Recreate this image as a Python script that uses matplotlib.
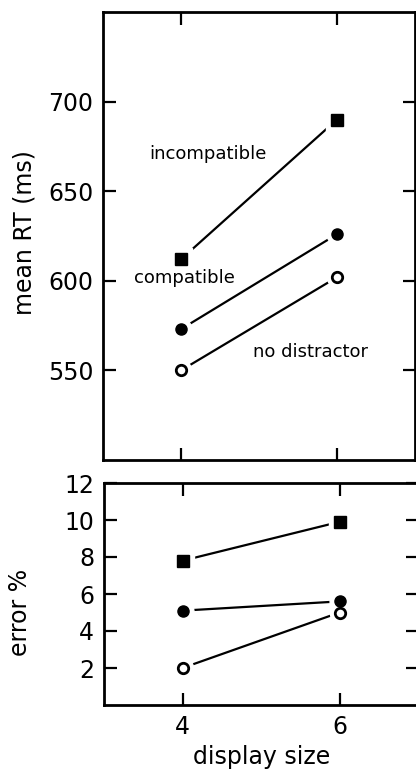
import matplotlib
matplotlib.use("Agg")
import matplotlib.pyplot as plt

plt.rcParams['font.family'] = ['DejaVu Sans']

display_size = [4, 6]
conditions = ["incompatible", "compatible", "no distractor"]
rt_values = {
    "incompatible": [612, 690],
    "compatible": [573, 626],
    "no distractor": [550, 602],
}
err_values = {
    "incompatible": [7.8, 9.9],
    "compatible": [5.1, 5.6],
    "no distractor": [2.0, 5.0],
}
rt_ticks = [550, 600, 650, 700]
err_ticks = [2, 4, 6, 8, 10, 12]

styles = {
    "incompatible": dict(marker="s", ms=8.5, mfc="black", mec="black", mew=1.0),
    "compatible": dict(marker="o", ms=8, mfc="black", mec="black", mew=1.0),
    "no distractor": dict(marker="o", ms=7.5, mfc="white", mec="black", mew=2.0),
}

W, H = 416, 770
fig = plt.figure(figsize=(W / 100, H / 100), dpi=100)

def px_rect(left, top, right, bottom):
    return [left / W, 1 - bottom / H, (right - left) / W, (bottom - top) / H]

ax1 = fig.add_axes(px_rect(103, 12, 415, 460))
ax2 = fig.add_axes(px_rect(104, 483, 418, 705))

def draw(ax, values):
    for c in conditions:
        st = styles[c]
        ax.plot(display_size, values[c], color="black", lw=1.6, zorder=2)
        ax.plot(display_size, values[c], ls="none", marker=st["marker"],
                ms=st["ms"] + 7, mfc="white", mec="white", zorder=3)
        ax.plot(display_size, values[c], ls="none", zorder=4, **st)

for ax in (ax1, ax2):
    for sp in ax.spines.values():
        sp.set_linewidth(2.0)
    ax.tick_params(direction="in", length=9, width=1.6, top=True, right=True,
                   labelsize=17, pad=7)
    ax.set_xlim(3, 7)
    ax.set_xticks(display_size)

draw(ax1, rt_values)
ax1.set_ylim(500, 750)
ax1.set_yticks(rt_ticks)
ax1.tick_params(labelbottom=False)

draw(ax2, err_values)
ax2.set_ylim(0, 12)
ax2.set_yticks(err_ticks)
ax2.set_xticklabels([str(v) for v in display_size])

ax1.text(4.35, 671, "incompatible", fontsize=13, ha="center", va="center")
ax1.text(4.05, 601.5, "compatible", fontsize=13, ha="center", va="center")
ax1.text(5.66, 560.5, "no distractor", fontsize=13, ha="center", va="center")

fig.text(25 / W, 1 - 233 / H, "mean RT (ms)", rotation=90, fontsize=17,
         ha="center", va="center")
fig.text(20 / W, 1 - 612 / H, "error %", rotation=90, fontsize=17,
         ha="center", va="center")
fig.text(262 / W, 1 - 757 / H, "display size", fontsize=17,
         ha="center", va="center")

fig.savefig("out.png", dpi=100)
